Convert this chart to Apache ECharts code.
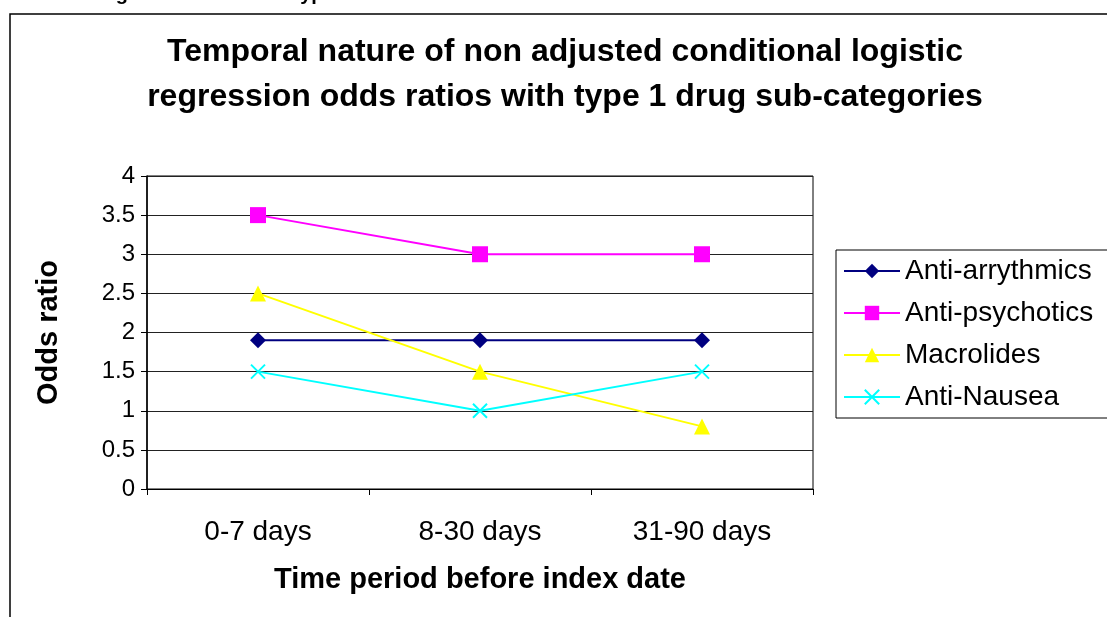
<!DOCTYPE html>
<html>
<head>
<meta charset="utf-8">
<script src="https://cdn.jsdelivr.net/npm/echarts@6/dist/echarts.min.js"></script>
<style>
  html, body { margin: 0; padding: 0; background: #fff; }
  #chart { width: 1107px; height: 617px; }
</style>
</head>
<body>
<div id="chart"></div>
<script>
// data
const periods = ['0-7 days', '8-30 days', '31-90 days'];
const antiArrythmics = [1.9, 1.9, 1.9];
const antiPsychotics = [3.5, 3, 3];
const macrolides = [2.5, 1.5, 0.8];
const antiNausea = [1.5, 1, 1.5];

const font = '"Liberation Sans", Arial, sans-serif';

const myChart = echarts.init(document.getElementById('chart'));

myChart.setOption({
    animation: false,
    title: {
        text: 'Temporal nature of non adjusted conditional logistic\nregression odds ratios with type 1 drug sub-categories',
        left: 560,
        top: 25,
        textAlign: 'center',
        textStyle: {
            fontFamily: font,
            fontWeight: 'bold',
            fontSize: 32,
            lineHeight: 45,
            color: '#000'
        }
    },
    graphic: [
        // frame of the chart object
        {
            type: 'rect',
            shape: { x: 10, y: 14, width: 1200, height: 700 },
            style: { fill: 'none', stroke: '#000', lineWidth: 1.5 },
            silent: true
        },
        // caption above, cut off by the page top
        {
            type: 'text',
            x: 98,
            y: 4,
            style: {
                text: 'Figure 3: Odds ratio type 1',
                font: 'bold 20px ' + font,
                fill: '#000',
                verticalAlign: 'bottom'
            },
            silent: true
        }
    ],
    grid: {
        left: 147,
        right: 294,
        top: 176,
        bottom: 128,
        show: true,
        borderColor: '#000',
        borderWidth: 1
    },
    legend: {
        orient: 'vertical',
        left: 836,
        top: 250,
        padding: [7, 40, 7, 7],
        itemGap: 14,
        itemWidth: 56,
        itemHeight: 18,
        borderColor: '#000',
        borderWidth: 1,
        borderRadius: 0,
        textStyle: {
            fontFamily: font,
            fontSize: 28,
            color: '#000'
        },
        data: ['Anti-arrythmics', 'Anti-psychotics', 'Macrolides', 'Anti-Nausea']
    },
    xAxis: {
        type: 'category',
        data: periods,
        boundaryGap: true,
        name: 'Time period before index date',
        nameLocation: 'middle',
        nameGap: 76,
        nameTextStyle: {
            fontFamily: font,
            fontWeight: 'bold',
            fontSize: 29,
            color: '#000'
        },
        axisLine: { lineStyle: { color: '#000', width: 1 } },
        axisTick: { show: true, length: 6, lineStyle: { color: '#000' } },
        axisLabel: {
            margin: 29,
            fontFamily: font,
            fontSize: 28,
            color: '#000'
        },
        splitLine: { show: false }
    },
    yAxis: {
        type: 'value',
        min: 0,
        max: 4,
        interval: 0.5,
        name: 'Odds ratio',
        nameLocation: 'middle',
        nameGap: 84,
        nameTextStyle: {
            fontFamily: font,
            fontWeight: 'bold',
            fontSize: 29,
            color: '#000'
        },
        axisLine: { show: true, lineStyle: { color: '#000', width: 1.5 } },
        axisTick: { show: true, length: 6, lineStyle: { color: '#000' } },
        axisLabel: {
            margin: 12,
            fontFamily: font,
            fontSize: 24,
            color: '#000'
        },
        splitLine: { show: true, lineStyle: { color: '#222', width: 1 } }
    },
    series: [
        {
            name: 'Anti-arrythmics',
            type: 'line',
            data: antiArrythmics,
            symbol: 'diamond',
            symbolSize: 16,
            lineStyle: { color: '#000080', width: 2 },
            itemStyle: { color: '#000080' }
        },
        {
            name: 'Anti-psychotics',
            type: 'line',
            data: antiPsychotics,
            symbol: 'rect',
            symbolSize: 16,
            lineStyle: { color: '#FF00FF', width: 2 },
            itemStyle: { color: '#FF00FF' }
        },
        {
            name: 'Macrolides',
            type: 'line',
            data: macrolides,
            symbol: 'triangle',
            symbolSize: 16,
            lineStyle: { color: '#FFFF00', width: 2 },
            itemStyle: { color: '#FFFF00' }
        },
        {
            name: 'Anti-Nausea',
            type: 'line',
            data: antiNausea,
            symbol: 'path://M0,0L10,10M10,0L0,10',
            symbolSize: 14,
            lineStyle: { color: '#00FFFF', width: 2 },
            itemStyle: { color: '#00FFFF', borderColor: '#00FFFF', borderWidth: 2 }
        }
    ]
});
</script>
</body>
</html>
